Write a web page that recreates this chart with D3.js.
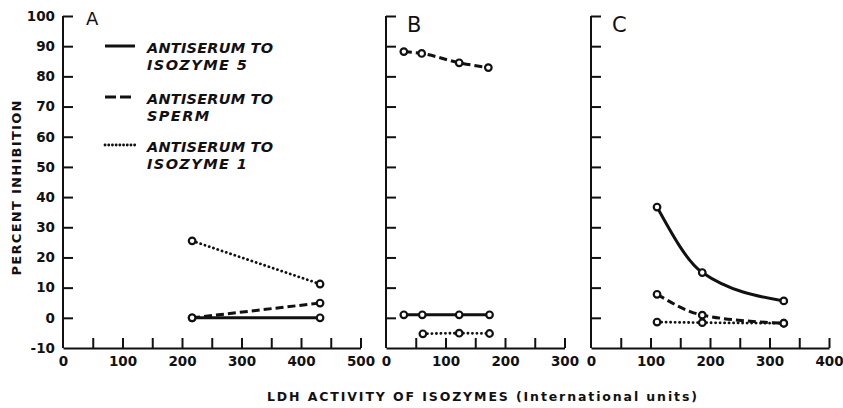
<!DOCTYPE html>
<html lang="en">
<head>
<meta charset="UTF-8">
<title>Percent inhibition vs LDH activity</title>
<script src="https://d3js.org/d3.v7.min.js"></script>
<style>
    body { margin: 0; background: #fff; }
    svg { display: block; font-family: "DejaVu Sans", sans-serif; }
    .series { fill: none; stroke: #111; }
    .legend text { font-size: 14.5px; font-weight: bold; font-style: italic; fill: #111; }
</style>
</head>
<body>
<svg id="chart"></svg>
<script>
// panels and their x extents
const panelNames = ["A", "B", "C"];
const panelXMax = [500, 300, 400];
const yTickValues = [-10, 0, 10, 20, 30, 40, 50, 60, 70, 80, 90, 100];

// series values [LDH activity, percent inhibition]
const iso5A  = [[217, 0], [432, 0]];
const spermA = [[217, 0], [432, 4.9]];
const iso1A  = [[217, 25.5], [432, 11.2]];

const iso5B  = [[30, 1], [61, 1], [123, 1], [174, 1]];
const spermB = [[30, 88.2], [60, 87.6], [123, 84.5], [172, 82.9]];
const iso1B  = [[62, -5.3], [123, -5.1], [174, -5.2]];

const iso5C  = [[111, 36.7], [187, 15.0], [324, 5.6]];
const spermC = [[111, 7.8], [187, 0.9], [324, -1.8]];
const iso1C  = [[111, -1.4], [187, -1.6], [324, -1.8]];

const legendLines = [
    ["ANTISERUM TO", "ISOZYME 5"],
    ["ANTISERUM TO", "SPERM"],
    ["ANTISERUM TO", "ISOZYME 1"]
];

const W = 843, H = 408;
const svg = d3.select("#chart").attr("width", W).attr("height", H);

const styles = {
    iso5:  { width: 3, dash: null, cap: "butt" },
    sperm: { width: 3, dash: "8,4", cap: "butt" },
    iso1:  { width: 2.8, dash: "0.1,4.4", cap: "round" }
};

const panelLeft = [63, 386, 591];
const pxPer = 0.595;
const plotTop = 16, plotBottom = 348;

const y = d3.scaleLinear().domain([-10, 100]).range([plotBottom, plotTop]);

const panelData = [
    [["iso5", iso5A], ["sperm", spermA], ["iso1", iso1A]],
    [["iso5", iso5B], ["sperm", spermB], ["iso1", iso1B]],
    [["iso5", iso5C], ["sperm", spermC], ["iso1", iso1C]]
];

function styleAxis(g) {
    g.attr("font-family", null).attr("font-size", null);
    g.selectAll("path, line").attr("stroke", "#111").attr("stroke-width", 2);
    g.selectAll("text")
        .attr("fill", "#111")
        .style("font-size", "13.5px")
        .style("font-weight", "bold");
}

panelNames.forEach((name, i) => {
    const x = d3.scaleLinear()
        .domain([0, panelXMax[i]])
        .range([panelLeft[i], panelLeft[i] + panelXMax[i] * pxPer]);

    // y axis
    svg.append("g")
        .attr("transform", `translate(${panelLeft[i]},0)`)
        .call(d3.axisLeft(y)
            .tickValues(yTickValues.filter(v => v > -10))
            .tickSizeInner(-10).tickSizeOuter(0).tickPadding(8)
            .tickFormat(i === 0 ? d3.format("d") : ""))
        .call(g => g.select(".domain").attr("d", `M0,${plotTop}V${plotBottom}`))
        .call(styleAxis);

    if (i === 0) {
        svg.append("text")
            .attr("x", panelLeft[i] - 8).attr("y", y(-10)).attr("dy", "0.36em")
            .attr("text-anchor", "end")
            .style("font-size", "13.5px").style("font-weight", "bold").style("fill", "#111")
            .text("-10");
    }

    // x axis
    svg.append("g")
        .attr("transform", `translate(0,${plotBottom})`)
        .call(d3.axisBottom(x)
            .tickValues(d3.range(0, panelXMax[i] + 1, 50))
            .tickSizeInner(-10).tickSizeOuter(0).tickPadding(8)
            .tickFormat(d => d % 100 === 0 ? d : ""))
        .call(g => g.selectAll(".tick").filter(d => d === 0).select("line").remove())
        .call(styleAxis);

    // panel letter
    svg.append("text")
        .attr("x", panelLeft[i] + (i === 0 ? 23 : 21))
        .attr("y", i === 0 ? 25 : 32)
        .style("font-size", i === 0 ? "18px" : "21px")
        .style("fill", "#111")
        .text(name);

    const line = d3.line()
        .x(d => x(d[0]))
        .y(d => y(d[1]))
        .curve(d3.curveMonotoneX);

    panelData[i].forEach(([key, pts]) => {
        const s = styles[key];
        svg.append("path")
            .attr("class", "series")
            .attr("d", line(pts))
            .attr("stroke-width", s.width)
            .attr("stroke-dasharray", s.dash)
            .attr("stroke-linecap", s.cap);
    });

    panelData[i].forEach(([key, pts]) => {
        svg.append("g")
            .selectAll("circle")
            .data(pts)
            .join("circle")
            .attr("cx", d => x(d[0]))
            .attr("cy", d => y(d[1]))
            .attr("r", 3.3)
            .attr("fill", "#fff")
            .attr("stroke", "#111")
            .attr("stroke-width", 2.2);
    });
});

// legend
const legendKeys = ["iso5", "sperm", "iso1"];
const legendY = [46, 97, 145];
const legend = svg.append("g").attr("class", "legend");
legendKeys.forEach((key, i) => {
    const s = styles[key];
    legend.append("line")
        .attr("x1", 105).attr("x2", 135)
        .attr("y1", legendY[i]).attr("y2", legendY[i])
        .attr("stroke", "#111")
        .attr("stroke-width", s.width)
        .attr("stroke-dasharray", key === "sperm" ? "11,4" : (key === "iso1" ? "0.1,3.6" : null))
        .attr("stroke-linecap", s.cap);
    legend.append("text")
        .attr("x", 147).attr("y", legendY[i] + 7)
        .attr("textLength", 126).attr("lengthAdjust", "spacing")
        .text(legendLines[i][0]);
    legend.append("text")
        .attr("x", 147).attr("y", legendY[i] + 24)
        .style("letter-spacing", "1.4px")
        .text(legendLines[i][1]);
});

// axis titles
svg.append("text")
    .attr("transform", "translate(21,188) rotate(-90)")
    .attr("text-anchor", "middle")
    .attr("textLength", 175).attr("lengthAdjust", "spacing")
    .style("font-size", "13px").style("font-weight", "bold").style("fill", "#111")
    .text("PERCENT INHIBITION");

svg.append("text")
    .attr("x", 267).attr("y", 401)
    .attr("textLength", 430).attr("lengthAdjust", "spacing")
    .style("font-size", "12.5px").style("font-weight", "bold").style("fill", "#111")
    .text("LDH ACTIVITY OF ISOZYMES (International units)");
</script>
</body>
</html>
